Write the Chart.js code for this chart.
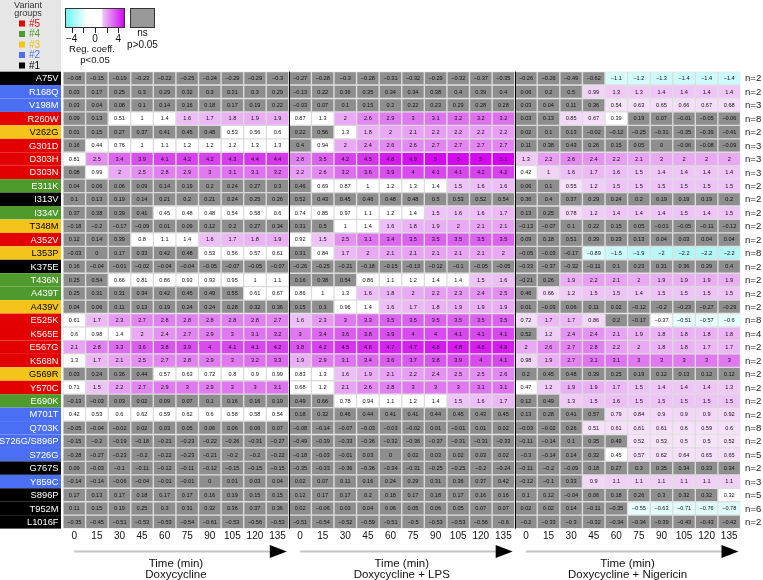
<!DOCTYPE html>
<html><head><meta charset="utf-8">
<script src="https://cdn.jsdelivr.net/npm/chart.js@4.4.1/dist/chart.umd.min.js"></script>
<style>html,body{margin:0;padding:0;background:#fff}#wrap{width:763px;height:580px;position:relative}</style>
</head><body><div id="wrap"><canvas id="c" width="763" height="580"></canvas></div>
<script>
const variants = ['A75V','R168Q','V198M','R260W','V262G','G301D','D303H','D303N','E311K','I313V','I334V','T348M','A352V','L353P','K375E','T436N','A439T','A439V','E525K','K565E','E567G','K568N','G569R','Y570C','E690K','M701T','Q703K','S726G/S896P','S726G','G767S','Y859C','S896P','T952M','L1016F'];
const variantGroups = [1,2,2,5,3,5,5,5,4,1,4,3,5,3,1,4,4,3,5,5,5,5,3,5,4,2,2,2,2,1,2,1,1,1];
const nCounts = [2,2,3,8,2,3,3,3,2,2,2,2,2,8,2,2,2,2,8,4,2,2,2,2,2,2,8,2,5,2,3,5,6,2];
const times = [0,15,30,45,60,75,90,105,120,135];
const panelTitles = ['Doxycycline','Doxycycline + LPS','Doxycycline + Nigericin'];

const doxValues = [
[-0.08,-0.15,-0.19,-0.23,-0.22,-0.25,-0.24,-0.29,-0.29,-0.3],
[0.03,0.17,0.25,0.3,0.29,0.32,0.3,0.31,0.3,0.29],
[0.03,0.04,0.08,0.1,0.14,0.16,0.18,0.17,0.19,0.22],
[0.09,0.13,0.51,1,1.4,1.6,1.7,1.8,1.9,1.9],
[0.01,0.15,0.27,0.37,0.41,0.45,0.48,0.53,0.56,0.6],
[0.16,0.44,0.76,1,1.1,1.2,1.2,1.2,1.3,1.3],
[0.81,2.5,3.4,3.9,4.1,4.2,4.2,4.3,4.4,4.4],
[0.08,0.99,2,2.5,2.8,2.9,3,3.1,3.1,3.2],
[0.04,0.06,0.06,0.09,0.14,0.19,0.2,0.24,0.27,0.3],
[0.1,0.13,0.19,0.14,0.21,0.2,0.21,0.24,0.25,0.26],
[0.37,0.38,0.39,0.41,0.45,0.48,0.48,0.54,0.58,0.6],
[-0.18,-0.2,-0.17,-0.09,0.01,0.09,0.12,0.2,0.27,0.34],
[0.12,0.14,0.39,0.8,1.1,1.4,1.6,1.7,1.8,1.9],
[-0.03,0,0.17,0.33,0.42,0.48,0.53,0.56,0.57,0.61],
[0.16,-0.04,-0.01,-0.02,-0.04,-0.04,-0.05,-0.07,-0.05,-0.07],
[0.25,0.54,0.66,0.81,0.86,0.93,0.93,0.95,1,1.1],
[0.25,0.31,0.31,0.34,0.42,0.45,0.49,0.55,0.61,0.67],
[0.04,0.06,0.11,0.13,0.19,0.24,0.24,0.28,0.32,0.36],
[0.61,1.7,2.3,2.7,2.8,2.8,2.8,2.8,2.8,2.7],
[0.6,0.98,1.4,2,2.4,2.7,2.9,3,3.1,3.2],
[2.1,2.8,3.3,3.6,3.8,3.9,4,4.1,4.1,4.2],
[1.3,1.7,2.1,2.5,2.7,2.8,2.9,3,3.2,3.3],
[0.03,0.24,0.36,0.44,0.57,0.63,0.72,0.8,0.9,0.99],
[0.71,1.5,2.2,2.7,2.9,3,2.9,3,3,3.1],
[-0.13,-0.03,0.03,0.02,0.09,0.07,0.1,0.16,0.16,0.19],
[0.42,0.53,0.6,0.62,0.59,0.62,0.6,0.58,0.58,0.54],
[-0.05,-0.04,-0.02,0.02,0.03,0.05,0.06,0.06,0.06,0.07],
[-0.15,-0.2,-0.19,-0.18,-0.21,-0.23,-0.22,-0.26,-0.31,-0.27],
[-0.28,-0.27,-0.23,-0.2,-0.22,-0.23,-0.21,-0.2,-0.2,-0.22],
[0.09,-0.03,-0.1,-0.11,-0.12,-0.11,-0.12,-0.15,-0.15,-0.15],
[-0.14,-0.14,-0.06,-0.04,-0.01,-0.01,0,0.01,0.03,0.04],
[0.17,0.13,0.17,0.18,0.17,0.17,0.16,0.19,0.15,0.15],
[0.11,0.15,0.19,0.25,0.3,0.31,0.32,0.36,0.37,0.36],
[-0.35,-0.45,-0.51,-0.53,-0.53,-0.54,-0.61,-0.53,-0.56,-0.53]
];
const lpsValues = [
[-0.27,-0.28,-0.3,-0.28,-0.31,-0.32,-0.29,-0.32,-0.37,-0.35],
[-0.13,0.22,0.36,0.35,0.34,0.34,0.38,0.4,0.39,0.4],
[-0.03,0.07,0.1,0.15,0.2,0.22,0.23,0.29,0.28,0.28],
[0.87,1.3,2,2.6,2.9,3,3.1,3.2,3.2,3.2],
[0.22,0.56,1.3,1.8,2,2.1,2.2,2.2,2.2,2.2],
[0.4,0.94,2,2.4,2.6,2.6,2.7,2.7,2.7,2.7],
[2.8,3.5,4.2,4.5,4.8,4.9,5,5,5,5.1],
[2.2,2.6,3.2,3.6,3.9,4,4.1,4.1,4.2,4.2],
[0.46,0.69,0.87,1,1.2,1.3,1.4,1.5,1.6,1.6],
[0.52,0.43,0.45,0.46,0.48,0.48,0.5,0.53,0.52,0.54],
[0.74,0.85,0.97,1.1,1.2,1.4,1.5,1.6,1.6,1.7],
[0.31,0.5,1,1.4,1.6,1.8,1.9,2,2.1,2.1],
[0.92,1.5,2.5,3.1,3.4,3.5,3.5,3.5,3.5,3.5],
[0.31,0.84,1.7,2,2.1,2.1,2.1,2.1,2.1,2],
[-0.26,-0.25,-0.21,-0.18,-0.15,-0.13,-0.12,-0.1,-0.05,-0.05],
[0.16,0.38,0.54,0.86,1.1,1.2,1.4,1.4,1.5,1.6],
[0.86,1,1.3,1.6,1.8,2,2.2,2.3,2.4,2.5],
[0.15,0.3,0.96,1.4,1.6,1.7,1.8,1.9,1.9,1.9],
[1.6,2.3,3,3.3,3.5,3.5,3.5,3.5,3.5,3.5],
[3,3.4,3.6,3.8,3.9,4,4,4.1,4.1,4.1],
[3.8,4.2,4.5,4.6,4.7,4.7,4.8,4.8,4.8,4.8],
[1.9,2.9,3.1,3.4,3.6,3.7,3.8,3.9,4,4.1],
[0.83,1.3,1.6,1.9,2.1,2.2,2.4,2.5,2.5,2.6],
[0.68,1.2,2.1,2.6,2.8,3,3,3,3.1,3.1],
[0.49,0.66,0.78,0.94,1.1,1.2,1.4,1.5,1.6,1.7],
[0.18,0.32,0.46,0.44,0.41,0.41,0.44,0.45,0.43,0.45],
[-0.08,-0.14,-0.07,-0.03,-0.03,-0.02,0.01,-0.01,0.01,0.02],
[-0.49,-0.39,-0.33,-0.36,-0.32,-0.36,-0.37,-0.31,-0.31,-0.33],
[-0.18,-0.03,-0.01,0.03,0,0.02,0.03,0.02,0.03,0.02],
[-0.35,-0.33,-0.36,-0.36,-0.34,-0.31,-0.25,-0.25,-0.2,-0.24],
[0.02,0.07,0.11,0.16,0.24,0.29,0.31,0.36,0.37,0.42],
[0.12,0.17,0.17,0.2,0.18,0.17,0.18,0.17,0.16,0.16],
[0.02,-0.06,0.03,0.04,0.06,0.05,0.06,0.05,0.07,0.07],
[-0.51,-0.54,-0.52,-0.59,-0.51,-0.5,-0.53,-0.53,-0.56,-0.6]
];
const nigValues = [
[-0.26,-0.26,-0.49,-0.62,-1.1,-1.2,-1.3,-1.4,-1.4,-1.4],
[0.06,0.2,0.5,0.99,1.3,1.3,1.4,1.4,1.4,1.4],
[0.03,0.04,0.11,0.36,0.54,0.63,0.65,0.66,0.67,0.68],
[0.03,0.13,0.85,0.67,0.39,0.19,0.07,-0.01,-0.05,-0.06],
[0.02,0.1,0.13,-0.02,-0.12,-0.25,-0.31,-0.35,-0.39,-0.41],
[0.11,0.38,0.43,0.26,0.15,0.05,0,-0.06,-0.08,-0.09],
[1.3,2.2,2.6,2.4,2.2,2.1,2,2,2,2],
[0.42,1,1.6,1.7,1.6,1.5,1.4,1.4,1.4,1.4],
[0.06,0.1,0.55,1.2,1.5,1.5,1.5,1.5,1.5,1.5],
[0.36,0.4,0.37,0.29,0.24,0.2,0.19,0.19,0.19,0.2],
[0.13,0.25,0.78,1.2,1.4,1.4,1.4,1.5,1.4,1.5],
[-0.13,-0.07,0.1,0.22,0.15,0.05,-0.01,-0.05,-0.11,-0.12],
[0.09,0.18,0.51,0.39,0.23,0.13,0.04,0.03,0.04,0.04],
[-0.05,-0.03,-0.17,-0.89,-1.5,-1.9,-2,-2.2,-2.2,-2.2],
[-0.33,-0.37,-0.32,-0.11,0.1,0.23,0.31,0.36,0.39,0.4],
[-0.21,0.26,1.9,2.2,2.1,2,1.9,1.9,1.9,1.9],
[0.46,0.66,1.2,1.5,1.5,1.4,1.5,1.5,1.5,1.5],
[0.01,-0.03,0.06,0.11,0.02,-0.12,-0.2,-0.23,-0.27,-0.29],
[0.72,1.7,1.7,0.86,0.2,-0.17,-0.37,-0.51,-0.57,-0.6],
[0.52,1.2,2.4,2.4,2.1,1.9,1.8,1.8,1.8,1.8],
[2,2.6,2.7,2.8,2.2,2,1.8,1.8,1.7,1.7],
[0.98,1.9,2.7,3.1,3.1,3,3,3,3,3],
[0.2,0.45,0.48,0.39,0.25,0.19,0.12,0.13,0.12,0.12],
[0.47,1.2,1.9,1.9,1.7,1.5,1.4,1.4,1.4,1.3],
[0.12,0.49,1.3,1.5,1.6,1.5,1.5,1.5,1.5,1.5],
[0.13,0.28,0.41,0.57,0.79,0.84,0.9,0.9,0.9,0.92],
[-0.03,-0.02,0.26,0.51,0.61,0.61,0.61,0.6,0.59,0.6],
[-0.11,-0.14,0.1,0.35,0.49,0.52,0.53,0.5,0.5,0.52],
[-0.3,-0.14,0.14,0.32,0.45,0.57,0.62,0.64,0.65,0.65],
[-0.11,-0.2,-0.09,0.18,0.27,0.3,0.35,0.34,0.33,0.34],
[-0.12,-0.1,0.33,0.9,1.1,1.1,1.1,1.1,1.1,1.1],
[0.1,0.12,-0.04,0.06,0.18,0.26,0.3,0.32,0.32,0.32],
[0.02,0.02,0.14,-0.11,-0.35,-0.55,-0.63,-0.71,-0.76,-0.78],
[-0.2,-0.33,-0.3,-0.32,-0.34,-0.34,-0.39,-0.43,-0.43,-0.42]
];
// significance (1 = p<0.05 coloured, 0 = ns grey)
const doxSig = ['0000000000','0000000000','0000000000','0011111111','0000000111','0111111111','1111111111','0111111111','0000000000','0000000000','0000111111','0000000000','0001111111','0000001111','0000000000','0011111111','0000000011','0000000000','1111111111','1111111111','1111111111','1111111111','0000111111','1111111111','0000000000','1111111111','0000000000','0000000000','0000000000','0000000000','0000000000','0000000000','0000000000','0000000000'];
const lpsSig = ['0000000000','0000000000','0000000000','1111111111','0011111111','0111111111','1111111111','1111111111','0111111111','0000000000','1111111111','0011111111','1111111111','0111111111','0000000000','0001111111','1111111111','0011111111','1111111111','1111111111','1111111111','1111111111','1111111111','1111111111','0011111111','0000000000','0000000000','0000000000','0000000000','0000000000','0000000000','0000000000','0000000000','0000000000'];
const nigSig = ['0000111111','0001111111','0000111111','0011100000','0000000000','0000000000','1111111111','1111111111','0011111111','0000000000','0011111111','0000000000','0000000000','0001111111','0000000000','0011111111','0111111111','0000000000','1111001111','0111111111','1111111111','1111111111','0000000000','1111111111','0011111111','0000111111','0001111111','0000011111','0000111111','0000000000','0001111111','0000000001','0000011111','0000000000'];

const panelValues = [doxValues, lpsValues, nigValues];
const panelSig = [doxSig, lpsSig, nigSig];
const groupColors = {5:'#e30000',4:'#4f9a2c',3:'#f3c41a',2:'#4a6ff2',1:'#000000'};
const groupText = {5:'#e30000',4:'#4f9a2c',3:'#f0bc10',2:'#4a6ff2',1:'#000000'};
const GREY = '#8e8e8e';
const FONT = '"Liberation Sans", Arial, Helvetica, sans-serif';

function hex(h){return [parseInt(h.slice(1,3),16),parseInt(h.slice(3,5),16),parseInt(h.slice(5,7),16)];}
function interp(anchors, v){
  if (v <= anchors[0][0]) return anchors[0][1];
  for (let i=1;i<anchors.length;i++){
    if (v <= anchors[i][0]){
      const [v0,c0]=anchors[i-1],[v1,c1]=anchors[i];
      const t=(v-v0)/(v1-v0), a=hex(c0), b=hex(c1);
      return 'rgb('+a.map((x,k)=>Math.round(x+(b[k]-x)*t)).join(',')+')';
    }
  }
  return anchors[anchors.length-1][1];
}
const posAnchors = [[0.5,'#f6e3f9'],[1.5,'#eec3f7'],[2.5,'#e48ef2'],[3.5,'#db62ee'],[4.5,'#d633ee'],[5.1,'#d600f2']];
const negAnchors = [[0.45,'#e8fdfd'],[1.4,'#cdfafa'],[2.2,'#b3f6f6'],[5.1,'#50f0f0']];
function cellColor(v, sig, panel){
  if (!sig) return GREY;
  if (v >= 0){
    const thr = panel < 2 ? 1.45 : 0.5;
    if (v < thr) return '#ffffff';
    return interp(posAnchors, v);
  }
  if (-v < 0.45) return '#ffffff';
  return interp(negAnchors, -v);
}
function fmt(v){ return String(v).replace('-', '\u2212'); }

const datasets = [];
panelValues.forEach((vals, p) => {
  times.forEach((t, j) => {
    const col = p*10 + j;
    datasets.push({
      label: panelTitles[p] + ' ' + t,
      data: variants.map(() => [col, col+1]),
      cellValues: vals.map(r => r[j]),
      backgroundColor: vals.map((r, i) => cellColor(r[j], panelSig[p][i][j] === '1', p)),
      borderColor: 'rgba(200,200,200,0.55)',
      borderWidth: 1,
      borderSkipped: false,
      grouped: false,
      barPercentage: 1,
      categoryPercentage: 1
    });
  });
});

const heatPlugin = {
  id: 'heat',
  beforeDraw(chart){
    const ctx = chart.ctx;
    ctx.save(); ctx.fillStyle = '#fff'; ctx.fillRect(0,0,chart.width,chart.height); ctx.restore();
  },
  afterDatasetsDraw(chart){
    const ctx = chart.ctx, xs = chart.scales.x, ys = chart.scales.y, ca = chart.chartArea;
    const rowH = (ca.bottom - ca.top) / variants.length;
    ctx.save();
    // cell texts
    ctx.font = '5.6px ' + FONT; ctx.textAlign = 'center'; ctx.textBaseline = 'middle'; ctx.fillStyle = '#111';
    chart.data.datasets.forEach((ds, di) => {
      chart.getDatasetMeta(di).data.forEach((el, ri) => {
        const c = el.getCenterPoint();
        ctx.fillText(fmt(ds.cellValues[ri]), c.x, c.y + 0.3);
      });
    });
    // panel separators
    ctx.strokeStyle = '#000'; ctx.lineWidth = 1;
    [10, 20].forEach(v => {
      const x = Math.round(xs.getPixelForValue(v)) + 0.5;
      ctx.beginPath(); ctx.moveTo(x, ca.top); ctx.lineTo(x, ca.bottom); ctx.stroke();
    });
    // row labels
    variants.forEach((name, i) => {
      const yc = ys.getPixelForValue(i);
      const g = variantGroups[i];
      ctx.fillStyle = groupColors[g];
      ctx.fillRect(0, yc - rowH/2, 61, rowH);
      ctx.fillStyle = g === 3 ? '#000' : '#fff';
      ctx.font = '9.3px ' + FONT; ctx.textAlign = 'right'; ctx.textBaseline = 'middle';
      ctx.fillText(name, 58.5, yc + 0.5);
      ctx.fillStyle = '#222'; ctx.textAlign = 'left'; ctx.font = '9.6px ' + FONT;
      ctx.fillText('n=' + nCounts[i], 745, yc + 0.5);
    });
    // x tick labels
    ctx.fillStyle = '#111'; ctx.font = '10px ' + FONT; ctx.textAlign = 'center'; ctx.textBaseline = 'middle';
    for (let c = 0; c < 30; c++) ctx.fillText(String(times[c % 10]), xs.getPixelForValue(c + 0.5), ca.bottom + 7.5);
    // arrows and titles
    panelTitles.forEach((title, p) => {
      const x0 = xs.getPixelForValue(p*10 + 0.5), x1 = xs.getPixelForValue(p*10 + 10) - 2;
      const ya = ca.bottom + 23;
      ctx.strokeStyle = '#c4c4c4'; ctx.lineWidth = 2;
      ctx.beginPath(); ctx.moveTo(x0, ya); ctx.lineTo(x1 - 14, ya); ctx.stroke();
      ctx.fillStyle = '#000';
      ctx.beginPath(); ctx.moveTo(x1 - 17, ya - 6.5); ctx.lineTo(x1, ya); ctx.lineTo(x1 - 17, ya + 6.5); ctx.closePath(); ctx.fill();
      const xm = (xs.getPixelForValue(p*10) + xs.getPixelForValue(p*10 + 10)) / 2;
      ctx.fillStyle = '#111'; ctx.font = '11.5px ' + FONT;
      ctx.fillText('Time (min)', xm, ca.bottom + 35);
      ctx.fillText(title, xm, ca.bottom + 46.5);
    });
    // legend: variant groups
    ctx.fillStyle = '#e6e6e6'; ctx.fillRect(0, 0, 61, ca.top - 0.5);
    ctx.fillStyle = '#333'; ctx.font = '9px ' + FONT; ctx.textAlign = 'center';
    ctx.fillText('Variant', 28, 5.5); ctx.fillText('groups', 28, 13.5);
    [5,4,3,2,1].forEach((g, k) => {
      const y = 23.5 + k*10.5;
      ctx.fillStyle = groupColors[g]; ctx.fillRect(19, y - 3, 6, 6);
      ctx.fillStyle = groupText[g]; ctx.font = '10px ' + FONT; ctx.textAlign = 'left';
      ctx.fillText('#' + g, 29, y + 0.5);
    });
    // legend: colour bar
    const bx0 = 65, bx1 = 125, by0 = 8, by1 = 28;
    const vToX = v => 95 + v * 5.85;
    const grad = ctx.createLinearGradient(bx0, 0, bx1, 0);
    grad.addColorStop(0, '#66f5f5'); grad.addColorStop(0.37, '#ffffff');
    grad.addColorStop(0.61, '#ffffff'); grad.addColorStop(0.63, '#efc6f7');
    grad.addColorStop(1, '#cc00ee');
    ctx.fillStyle = grad; ctx.fillRect(bx0, by0, bx1 - bx0, by1 - by0);
    ctx.strokeStyle = '#333'; ctx.lineWidth = 1; ctx.strokeRect(bx0 + 0.5, by0 + 0.5, bx1 - bx0 - 1, by1 - by0 - 1);
    ctx.strokeStyle = '#222';
    [-4, -2, 0, 2, 4].forEach(v => {
      const x = Math.round(vToX(v)) + 0.5;
      ctx.beginPath(); ctx.moveTo(x, by1); ctx.lineTo(x, by1 + 5); ctx.stroke();
    });
    ctx.fillStyle = '#111'; ctx.font = '10px ' + FONT; ctx.textAlign = 'center';
    [-4, 0, 4].forEach(v => ctx.fillText(fmt(v), vToX(v), 39.5));
    ctx.font = '9.5px ' + FONT;
    ctx.fillText('Reg. coeff.', 92, 49);
    ctx.fillText('p<0.05', 95, 60);
    ctx.fillStyle = '#999'; ctx.fillRect(130, by0, 25, by1 - by0);
    ctx.strokeStyle = '#333'; ctx.strokeRect(130.5, by0 + 0.5, 24, by1 - by0 - 1);
    ctx.fillStyle = '#111'; ctx.font = '10px ' + FONT;
    ctx.fillText('ns', 142.5, 33.5);
    ctx.fillText('p>0.05', 142.5, 45.5);
    ctx.restore();
  }
};

new Chart(document.getElementById('c'), {
  type: 'bar',
  data: { labels: variants, datasets },
  options: {
    indexAxis: 'y',
    responsive: false,
    animation: false,
    layout: { padding: { left: 63, right: 22.5, top: 71.6, bottom: 51.4 } },
    plugins: { legend: { display: false }, tooltip: { enabled: false } },
    scales: {
      x: { type: 'linear', min: 0, max: 30, display: false },
      y: { type: 'category', display: false, offset: true }
    }
  },
  plugins: [heatPlugin]
});
</script>
</body></html>
